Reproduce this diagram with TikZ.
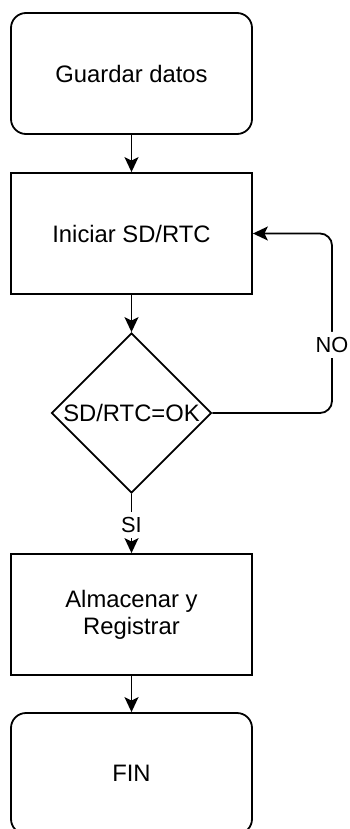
\documentclass[tikz,border=0pt]{standalone}
\usepackage{fontspec}
\setmainfont{Liberation Sans}
\usetikzlibrary{shapes.geometric,arrows.meta}
\begin{document}
\begin{tikzpicture}[x=1pt,y=-1pt,
  box/.style={draw=black, line width=1.8pt, minimum width=241pt, minimum height=121pt,
    inner sep=0pt, align=center, font=\fontsize{23.8}{27}\selectfont},
  term/.style={box, rounded corners=15pt},
  dec/.style={draw=black, line width=1.8pt, diamond, aspect=1, minimum width=160pt,
    minimum height=160pt, inner sep=0pt},
  dtxt/.style={inner sep=0pt, font=\fontsize{23.8}{27}\selectfont},
  arr/.style={line width=1.8pt, -{Stealth[length=15pt,width=14pt,inset=3.5pt]}},
  lbl/.style={fill=white, inner sep=1pt, minimum height=26pt, font=\fontsize{21.8}{26}\selectfont},
]
\clip (0,0) rectangle (350,829);
\node[term] (b1) at (131.5,73.5) {Guardar datos};
\node[box] (b2) at (131.5,233.5) {Iniciar SD/RTC};
\node[dec] (d) at (131.5,413) {};
\node[dtxt] (dt) at (d) {SD/RTC=OK};
\node[box] (b3) at (131.5,614.5) {Almacenar y\\Registrar};
\node[term] (b4) at (131.5,773.5) {FIN};
\coordinate (c1) at (332,413);
\coordinate (c2) at (332,233.5);
\draw[arr] (b1) -- (b2);
\draw[arr] (b2) -- (d);
\draw[arr] (d) -- node[lbl, pos=0.52] (si) {SI} (b3);
\draw[arr] (b3) -- (b4);
\draw[arr, rounded corners=12pt] (d.east) -- (c1) -- node[lbl, pos=0.38] (no) {NO} (c2) -- (b2.east);
\end{tikzpicture}
\end{document}
